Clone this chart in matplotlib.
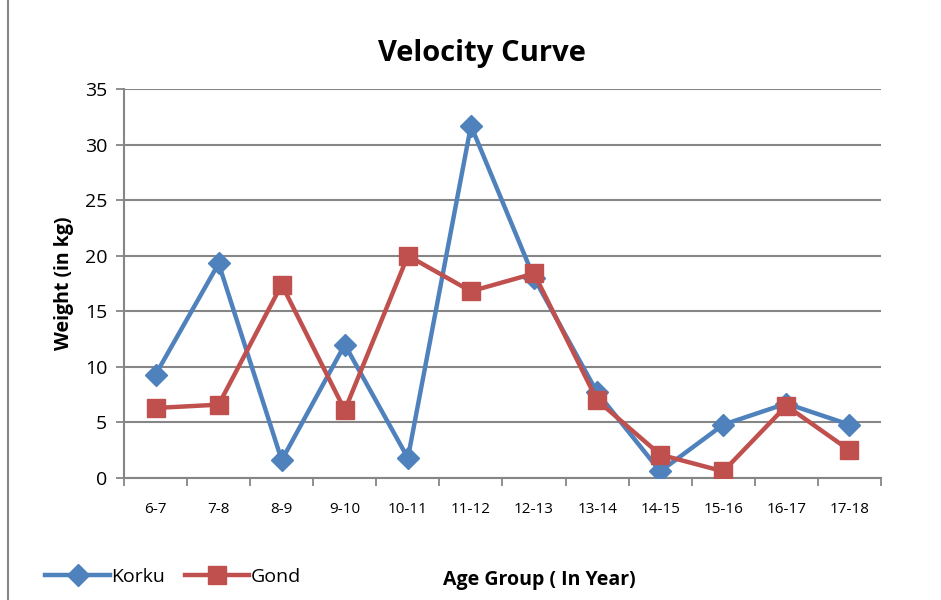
import numpy as np
import matplotlib.pyplot as plt
from matplotlib.patches import Rectangle

plt.rcParams['font.family'] = ['Open Sans', 'DejaVu Sans']

# data
age_groups = ["6-7", "7-8", "8-9", "9-10", "10-11", "11-12",
              "12-13", "13-14", "14-15", "15-16", "16-17", "17-18"]
korku = [9.3, 19.3, 1.6, 12.0, 1.8, 31.7, 18.0, 7.7, 0.6, 4.8, 6.7, 4.8]
gond = [6.3, 6.6, 17.4, 6.1, 20.0, 16.8, 18.4, 7.0, 2.1, 0.6, 6.5, 2.5]

blue = "#4F81BD"
red = "#C0504D"
grey = "#868686"

fig = plt.figure(figsize=(9.41, 6), dpi=100)
ax = fig.add_axes([0.1318, 0.2033, 0.8044, 0.6484])

x = np.arange(len(age_groups))
ax.plot(x, korku, color=blue, lw=3.2, marker='D', ms=11, label="Korku", zorder=3)
ax.plot(x, gond, color=red, lw=3.2, marker='s', ms=13, label="Gond", zorder=4)

ax.set_ylim(0, 35)
ax.set_yticks(range(0, 36, 5))
ax.set_xlim(-0.5, len(age_groups) - 0.5)
ax.set_xticks(x)
ax.set_xticklabels(age_groups, fontsize=11)
ax.set_xticks(np.arange(-0.5, len(age_groups), 1), minor=True)
ax.tick_params(axis='x', which='major', length=0, pad=17)
ax.tick_params(axis='x', which='minor', length=6, width=1.3, color=grey, direction='out')
ax.tick_params(axis='y', labelsize=14, length=6, width=1.3, color=grey, pad=6)

ax.grid(axis='y', color=grey, lw=1.5)
ax.set_axisbelow(True)
for s in ['top', 'right']:
    ax.spines[s].set_visible(False)
for s in ['left', 'bottom']:
    ax.spines[s].set_color(grey)
    ax.spines[s].set_linewidth(1.5)

ax.set_ylabel("Weight (in kg)", fontsize=14, fontweight='bold', labelpad=8)
fig.text(0.512, 0.91, "Velocity Curve", ha='center', va='center',
         fontsize=21, fontweight='bold')
fig.text(0.573, 0.033, "Age Group ( In Year)", ha='center', va='center',
         fontsize=14, fontweight='bold')

fig.legend(loc='center left', bbox_to_anchor=(0.04, 0.038), ncol=2, frameon=False,
           fontsize=14, handlelength=3.3, handletextpad=0.1, columnspacing=1.0,
           borderaxespad=0)

# outer chart border
fig.patches.append(Rectangle((8 / 941, -0.1), 1.1, 1.2, transform=fig.transFigure,
                             fill=False, edgecolor=grey, lw=1.5))

fig.savefig("out.png", dpi=100)
